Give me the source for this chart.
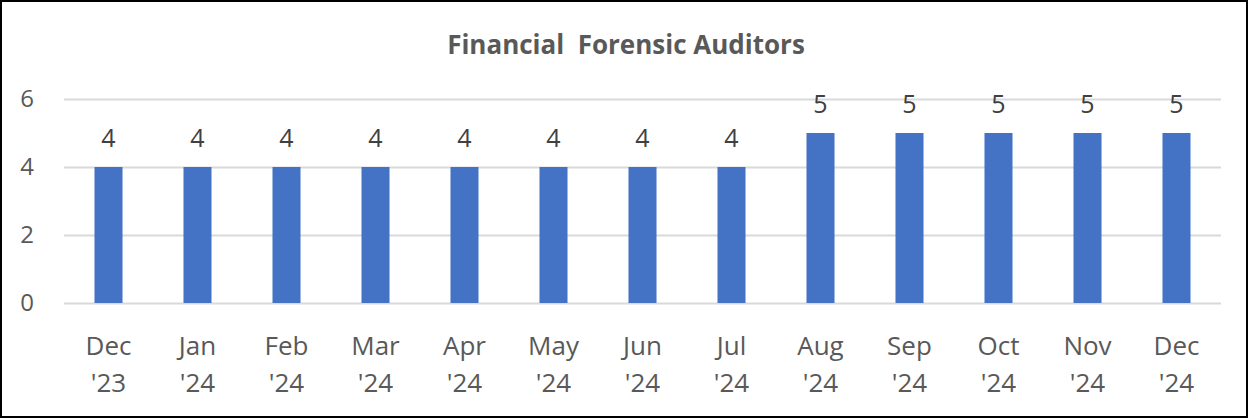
<!DOCTYPE html>
<html>
<head>
<meta charset="utf-8">
<script src="https://cdn.jsdelivr.net/npm/d3@7"></script>
<style>
  body { margin: 0; background: #fff; }
  svg { display: block; font-family: "Open Sans", "Liberation Sans", sans-serif; }
  .title { white-space: pre; }
</style>
</head>
<body>
<div id="chart"></div>
<script>
// data
var months = ["Dec", "Jan", "Feb", "Mar", "Apr", "May", "Jun", "Jul", "Aug", "Sep", "Oct", "Nov", "Dec"];
var years = ["'23", "'24", "'24", "'24", "'24", "'24", "'24", "'24", "'24", "'24", "'24", "'24", "'24"];
var values = [4, 4, 4, 4, 4, 4, 4, 4, 5, 5, 5, 5, 5];
var yTicks = [0, 2, 4, 6];
var title = "Financial  Forensic Auditors";

var width = 1249;
var height = 419;
var margin = { top: 99, right: 28, bottom: 116, left: 64 };
var textColor = "#595959";

var data = values.map((v, i) => ({ key: i, month: months[i], year: years[i], value: v }));

var x = d3
  .scaleBand()
  .domain(data.map((d) => d.key))
  .range([margin.left, width - margin.right])
  .paddingInner(0.685)
  .paddingOuter(0.3425);

var y = d3
  .scaleLinear()
  .domain([0, 6])
  .range([height - margin.bottom, margin.top]);

var svg = d3
  .select("#chart")
  .append("svg")
  .attr("width", width)
  .attr("height", height);

// outer frame
svg
  .append("rect")
  .attr("x", 1)
  .attr("y", 1)
  .attr("width", width - 3)
  .attr("height", height - 3)
  .attr("fill", "#fff")
  .attr("stroke", "#000")
  .attr("stroke-width", 2);

svg
  .append("text")
  .attr("class", "title")
  .attr("x", 626)
  .attr("y", 54)
  .attr("text-anchor", "middle")
  .attr("font-size", 26)
  .attr("font-weight", "bold")
  .attr("fill", textColor)
  .text(title);

// gridlines + y labels
var yAxis = (g) =>
  g
    .call(
      d3
        .axisLeft(y)
        .tickValues(yTicks)
        .tickFormat(d3.format("d"))
        .tickSize(-(width - margin.left - margin.right))
        .tickPadding(30)
    )
    .call((g) => g.select(".domain").remove())
    .call((g) => g.selectAll(".tick line").attr("stroke", "#d9d9d9").attr("stroke-width", 2))
    .call((g) =>
      g
        .selectAll(".tick text")
        .attr("font-size", 24)
        .attr("fill", textColor)
        .attr("font-family", "Open Sans, sans-serif")
    );

svg
  .append("g")
  .attr("transform", `translate(${margin.left},0)`)
  .call(yAxis);

// bars
svg
  .append("g")
  .selectAll("rect")
  .data(data)
  .join("rect")
  .attr("x", (d) => x(d.key))
  .attr("y", (d) => y(d.value))
  .attr("width", x.bandwidth())
  .attr("height", (d) => y(0) - y(d.value))
  .attr("fill", "#4472c4");

// value labels
svg
  .append("g")
  .selectAll("text")
  .data(data)
  .join("text")
  .attr("x", (d) => x(d.key) + x.bandwidth() / 2)
  .attr("y", (d) => y(d.value) - 20)
  .attr("text-anchor", "middle")
  .attr("font-size", 25)
  .attr("fill", "#404040")
  .text((d) => d.value);

// x labels (two lines)
var xl = svg
  .append("g")
  .selectAll("text")
  .data(data)
  .join("text")
  .attr("x", (d) => x(d.key) + x.bandwidth() / 2)
  .attr("y", 355)
  .attr("text-anchor", "middle")
  .attr("font-size", 26)
  .attr("fill", textColor);

xl.append("tspan").text((d) => d.month);
xl
  .append("tspan")
  .attr("x", (d) => x(d.key) + x.bandwidth() / 2)
  .attr("dy", 37)
  .text((d) => d.year);
</script>
</body>
</html>
